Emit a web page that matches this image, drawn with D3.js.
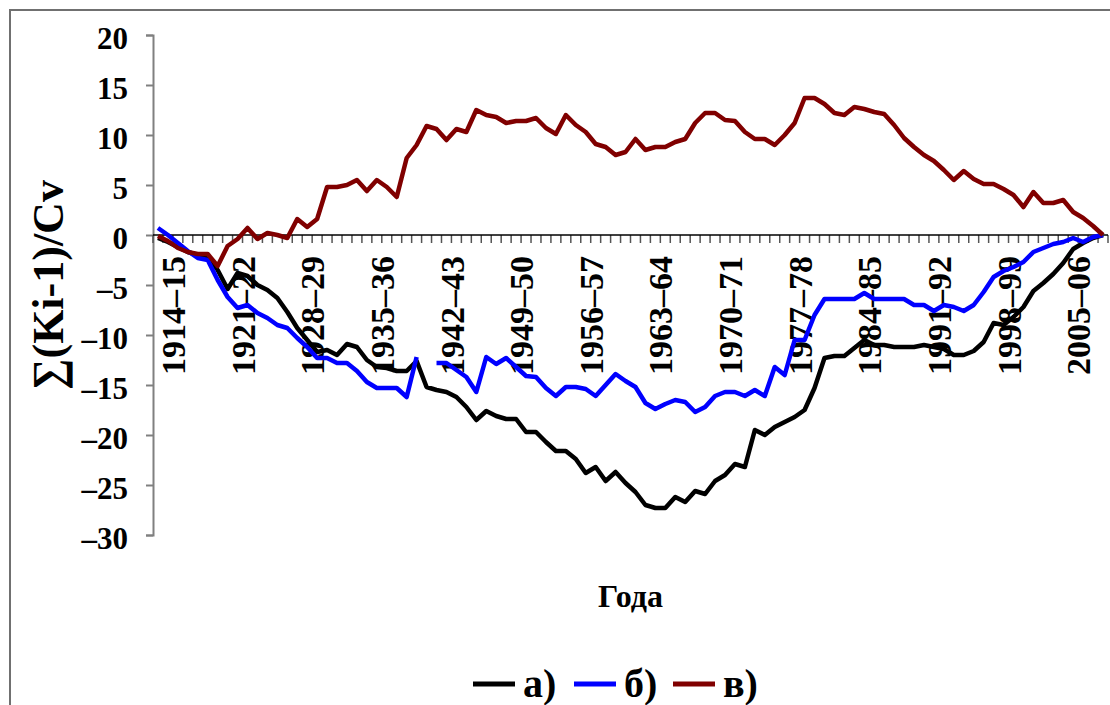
<!DOCTYPE html>
<html>
<head>
<meta charset="utf-8">
<script src="https://cdn.jsdelivr.net/npm/d3@7"></script>
<style>
  html, body { margin: 0; padding: 0; background: #fff; }
  svg { display: block; }
</style>
</head>
<body>
<svg id="chart" width="1110" height="705"></svg>
<script>
// Hydrological years, one category per season
const seasons = d3.range(1914, 2010).map(y => `${y}–${String((y + 1) % 100).padStart(2, "0")}`);
const labelStep = 7;
const yTicks = [-30, -25, -20, -15, -10, -5, 0, 5, 10, 15, 20];

// Cumulative deviation curves Σ(Ki-1)/Cv
const seriesA = [
  -0.3, -0.7, -1.2, -1.7, -2.0, -2.2, -3.5, -5.4, -3.8, -4.1,
  -5.0, -5.5, -6.3, -7.7, -9.3, -10.5, -11.7, -11.5, -12.0, -10.9,
  -11.2, -12.5, -13.2, -13.3, -13.6, -13.6, -12.6, -15.2, -15.5, -15.7,
  -16.2, -17.2, -18.5, -17.6, -18.1, -18.4, -18.4, -19.7, -19.7, -20.7,
  -21.6, -21.6, -22.4, -23.8, -23.2, -24.6, -23.7, -24.8, -25.7, -27.0,
  -27.3, -27.3, -26.2, -26.7, -25.6, -25.9, -24.6, -24.0, -22.9, -23.2,
  -19.5, -20.0, -19.2, -18.7, -18.2, -17.5, -15.3, -12.3, -12.1, -12.1,
  -11.3, -10.5, -11.0, -11.0, -11.2, -11.2, -11.2, -11.0, -11.2, -11.4,
  -12.0, -12.0, -11.6, -10.7, -8.8, -9.0, -8.2, -7.2, -5.6, -4.8,
  -3.9, -2.8, -1.4, -0.8, -0.3, 0.0
];
const seriesB = [
  0.7, 0.0, -0.8, -1.6, -2.3, -2.5, -4.5, -6.2, -7.3, -7.0,
  -7.8, -8.3, -9.0, -9.3, -10.3, -11.2, -12.3, -12.3, -12.8, -12.8,
  -13.6, -14.7, -15.3, -15.3, -15.3, -16.2, -12.2, null, -12.8, -12.8,
  -13.5, -14.2, -15.7, -12.2, -12.9, -12.3, -13.2, -14.1, -14.2, -15.3,
  -16.1, -15.2, -15.2, -15.4, -16.1, -15.0, -13.9, -14.6, -15.2, -16.8,
  -17.4, -16.9, -16.5, -16.7, -17.7, -17.2, -16.1, -15.7, -15.7, -16.1,
  -15.5, -16.1, -13.2, -14.0, -10.5, -10.5, -8.0, -6.4, -6.4, -6.4,
  -6.4, -5.8, -6.4, -6.4, -6.4, -6.4, -7.0, -7.0, -7.6, -7.0,
  -7.2, -7.6, -7.0, -5.7, -4.2, -3.6, -3.2, -2.7, -1.7, -1.3,
  -0.9, -0.7, -0.3, -0.7, -0.2, 0.0
];
const seriesC = [
  -0.1, -0.6, -1.3, -1.7, -1.9, -1.9, -3.1, -1.1, -0.4, 0.7,
  -0.4, 0.2, 0.0, -0.3, 1.6, 0.8, 1.6, 4.8, 4.8, 5.0,
  5.5, 4.4, 5.5, 4.8, 3.8, 7.7, 9.0, 10.9, 10.6, 9.5,
  10.6, 10.3, 12.5, 12.0, 11.8, 11.2, 11.4, 11.4, 11.7, 10.7,
  10.1, 12.0, 11.0, 10.3, 9.1, 8.8, 8.0, 8.3, 9.6, 8.5,
  8.8, 8.8, 9.3, 9.6, 11.2, 12.2, 12.2, 11.5, 11.4, 10.3,
  9.6, 9.6, 9.0, 10.0, 11.2, 13.7, 13.7, 13.1, 12.2, 12.0,
  12.8, 12.6, 12.3, 12.1, 11.0, 9.7, 8.8, 8.0, 7.4, 6.5,
  5.5, 6.4, 5.6, 5.1, 5.1, 4.6, 4.0, 2.8, 4.3, 3.2,
  3.2, 3.5, 2.3, 1.7, 0.9, 0.0
];
const seriesNames = ["а)", "б)", "в)"];
const seriesColors = ["#000000", "#0000ff", "#800000"];
const seriesValues = [seriesA, seriesB, seriesC];

const serif = "'Liberation Serif', 'Times New Roman', Tinos, 'DejaVu Serif', serif";

const svg = d3.select("#chart")
  .attr("font-family", serif)
  .attr("font-weight", "bold");
const plot = { left: 153, right: 1108, top: 35, bottom: 535 };

const x = d3.scaleBand().domain(seasons).range([plot.left, plot.right]).padding(0);
const y = d3.scaleLinear().domain([-30, 20]).range([plot.bottom, plot.top]);
const cx = s => x(s) + x.bandwidth() / 2;
const fmt = v => v < 0 ? "–" + Math.abs(v) : String(v);

// Chart area frame
svg.append("rect")
  .attr("x", 10).attr("y", 10).attr("width", 1120).attr("height", 720)
  .attr("fill", "none").attr("stroke", "#707070").attr("stroke-width", 2);

// Value axis
const yAxis = svg.append("g")
  .attr("transform", `translate(${plot.left},0)`)
  .call(d3.axisLeft(y).tickValues(yTicks).tickSize(7).tickPadding(18).tickFormat(fmt));
yAxis.attr("font-family", serif).attr("font-size", 31);
yAxis.select(".domain").attr("stroke", "#808080").attr("stroke-width", 2);
yAxis.selectAll(".tick line").attr("stroke", "#808080").attr("stroke-width", 2);
yAxis.selectAll(".tick text").attr("fill", "#000").attr("dy", "0.43em");

// Category axis at zero, ticks between seasons
const zeroY = y(0);
const boundaries = seasons.map(s => x(s)).concat([x.range()[1]]);
const xAxis = svg.append("g");
xAxis.selectAll("line.tick").data(boundaries).join("line")
  .attr("class", "tick")
  .attr("x1", d => d).attr("x2", d => d)
  .attr("y1", zeroY).attr("y2", zeroY + 8)
  .attr("stroke", "#555").attr("stroke-width", 1.5);
xAxis.append("line")
  .attr("x1", plot.left).attr("x2", plot.right)
  .attr("y1", zeroY).attr("y2", zeroY)
  .attr("stroke", "#000").attr("stroke-width", 1.5);

// Season labels, vertical
const labelled = seasons.filter((s, i) => i % labelStep === 0);
xAxis.selectAll("text.season").data(labelled).join("text")
  .attr("class", "season")
  .attr("font-size", 34)
  .attr("text-anchor", "end")
  .attr("transform", d => `translate(${cx(d) + 27},${zeroY + 21}) rotate(-90)`)
  .text(d => d);

// Series lines
const line = d3.line()
  .defined(d => d.v !== null)
  .x(d => cx(d.s))
  .y(d => y(d.v));

seriesValues.forEach((vals, k) => {
  svg.append("path")
    .datum(vals.map((v, i) => ({ s: seasons[i], v })))
    .attr("fill", "none")
    .attr("stroke", seriesColors[k])
    .attr("stroke-width", 4.5)
    .attr("stroke-linejoin", "round")
    .attr("d", line);
});

// Axis titles
svg.append("text")
  .attr("font-size", 44)
  .attr("text-anchor", "middle")
  .attr("transform", `translate(63,${(plot.top + plot.bottom) / 2}) rotate(-90)`)
  .text("∑(Ki-1)/Cv");

svg.append("text")
  .attr("font-size", 32)
  .attr("text-anchor", "middle")
  .attr("x", (plot.left + plot.right) / 2).attr("y", 607)
  .text("Года");

// Legend
const legendX = [473, 574, 673];
const legend = svg.append("g");
seriesNames.forEach((name, k) => {
  legend.append("line")
    .attr("x1", legendX[k]).attr("x2", legendX[k] + 42)
    .attr("y1", 684).attr("y2", 684)
    .attr("stroke", seriesColors[k]).attr("stroke-width", 5);
  legend.append("text")
    .attr("font-size", 40)
    .attr("x", legendX[k] + 50).attr("y", 697)
    .text(name);
});
</script>
</body>
</html>
